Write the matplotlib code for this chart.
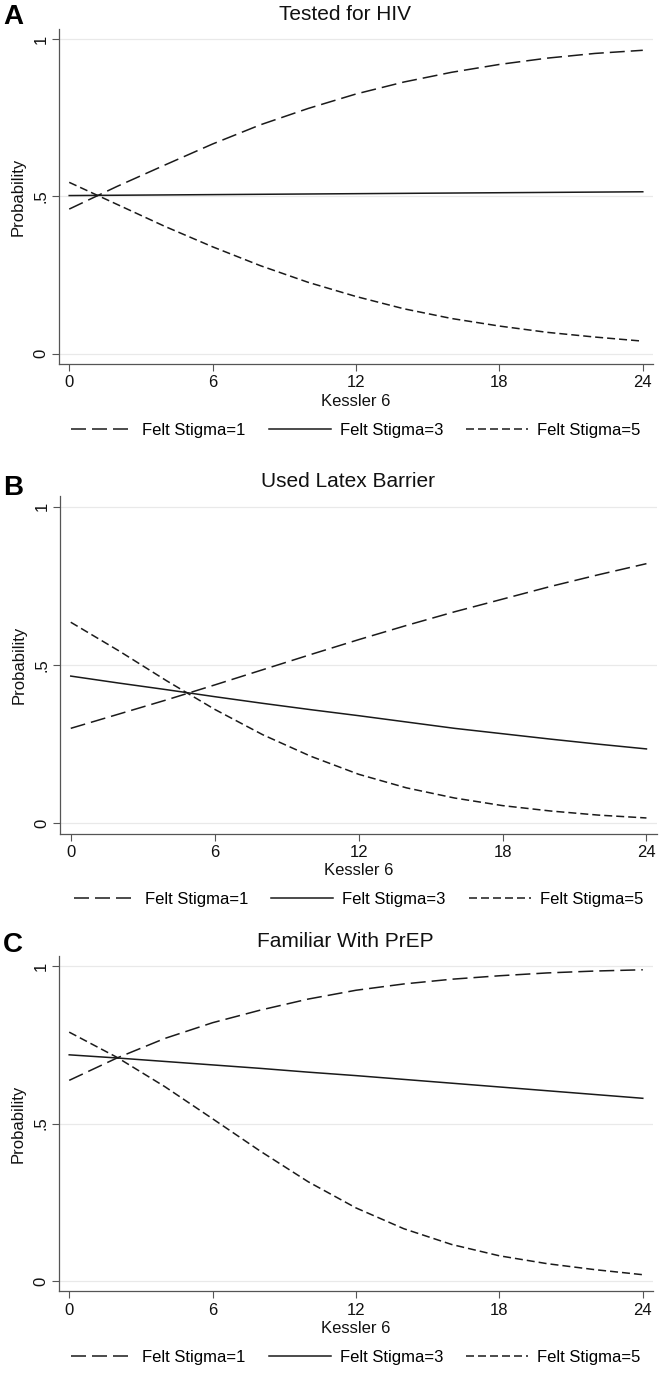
import matplotlib
matplotlib.use("Agg")
import matplotlib.pyplot as plt

plt.rcParams['font.family'] = ['Liberation Sans', 'DejaVu Sans']

# Kessler 6 score (x) and predicted probabilities
kessler = [0, 2, 4, 6, 8, 10, 12, 14, 16, 18, 20, 22, 24]

hiv_fs1 = [.46, .532, .60, .667, .728, .78, .826, .864, .895, .92, .94, .955, .965]
hiv_fs3 = [.503, .504, .505, .506, .507, .508, .509, .510, .511, .512, .513, .514, .515]
hiv_fs5 = [.545, .475, .405, .34, .28, .227, .182, .143, .112, .088, .068, .053, .04]

latex_fs1 = [.30, .345, .39, .437, .485, .533, .58, .625, .668, .708, .748, .785, .82]
latex_fs3 = [.465, .443, .422, .40, .379, .359, .34, .32, .30, .283, .266, .25, .235]
latex_fs5 = [.635, .545, .45, .36, .28, .212, .155, .112, .08, .056, .039, .026, .017]

prep_fs1 = [.637, .708, .77, .82, .86, .895, .923, .943, .958, .969, .978, .984, .988]
prep_fs3 = [.718, .708, .697, .686, .675, .663, .652, .64, .628, .616, .604, .592, .58]
prep_fs5 = [.79, .71, .617, .515, .412, .315, .232, .166, .116, .08, .055, .036, .02]

titles = ["Tested for HIV", "Used Latex Barrier", "Familiar With PrEP"]
letters = ["A", "B", "C"]
labels = ["Felt Stigma=1", "Felt Stigma=3", "Felt Stigma=5"]
panels = [(hiv_fs1, hiv_fs3, hiv_fs5),
          (latex_fs1, latex_fs3, latex_fs5),
          (prep_fs1, prep_fs3, prep_fs5)]

W, H = 664, 1398
fig = plt.figure(figsize=(W / 100, H / 100), dpi=100)

# axes boxes in pixels: left, right, top, bottom
boxes = [(58.7, 653.3, 28.9, 364.1),
         (60.2, 657.0, 496.2, 833.8),
         (58.7, 653.3, 955.6, 1291.4)]
letter_y = [17, 488, 945]

px = 0.72  # points per pixel
line_col = '#1a1a1a'
axis_col = '#555555'
lw = 1.1

for i, (l, r, t, b) in enumerate(boxes):
    ax = fig.add_axes([l / W, 1 - b / H, (r - l) / W, (b - t) / H])
    fs1, fs3, fs5 = panels[i]
    ax.plot(kessler, fs1, color=line_col, lw=lw,
            linestyle=(0, (15 * px / lw, 6 * px / lw)), label=labels[0])
    ax.plot(kessler, fs3, color=line_col, lw=lw, linestyle='-', label=labels[1])
    ax.plot(kessler, fs5, color=line_col, lw=lw,
            linestyle=(0, (8 * px / lw, 4 * px / lw)), label=labels[2])

    ax.set_xlim(-0.44, 24.44)
    ax.set_ylim(-0.033, 1.033)
    ax.set_xticks([0, 6, 12, 18, 24])
    ax.set_yticks([0, 0.5, 1])
    ax.set_yticklabels(['0', '.5', '1'], rotation=90, va='center')
    ax.grid(axis='y', color='#e9e9e9', lw=0.9)
    ax.set_axisbelow(True)
    for s in ['top', 'right']:
        ax.spines[s].set_visible(False)
    for s in ['left', 'bottom']:
        ax.spines[s].set_color(axis_col)
        ax.spines[s].set_linewidth(0.9)
    ax.tick_params(axis='both', length=5, width=0.8, color=axis_col,
                   labelsize=12, labelcolor='#111111')
    ax.tick_params(axis='x', pad=3)
    ax.tick_params(axis='y', pad=2.5)

    ax.annotate('Kessler 6', xy=(0.5, 0), xycoords='axes fraction',
                xytext=(0, -37 * px), textcoords='offset points',
                ha='center', va='center', fontsize=12, color='#111111')
    ax.annotate('Probability', xy=(0, 0.5), xycoords='axes fraction',
                xytext=(-41 * px, 0), textcoords='offset points',
                ha='center', va='center', rotation=90, fontsize=12, color='#111111')
    ax.annotate(titles[i], xy=(0.5, 1), xycoords='axes fraction',
                xytext=(-11 * px, 14.4 * px), textcoords='offset points',
                ha='center', va='center', fontsize=15, color='#111111')

    ax.legend(loc='center', bbox_to_anchor=(0.5, -66 / (b - t)), ncol=3,
              frameon=False, fontsize=12, handlelength=3.7,
              handletextpad=0.55, columnspacing=1.4)

    fig.text(3 / W, 1 - letter_y[i] / H, letters[i], fontsize=20,
             fontweight='bold', ha='left', va='center', color='black')

fig.savefig('out.png', dpi=100)
